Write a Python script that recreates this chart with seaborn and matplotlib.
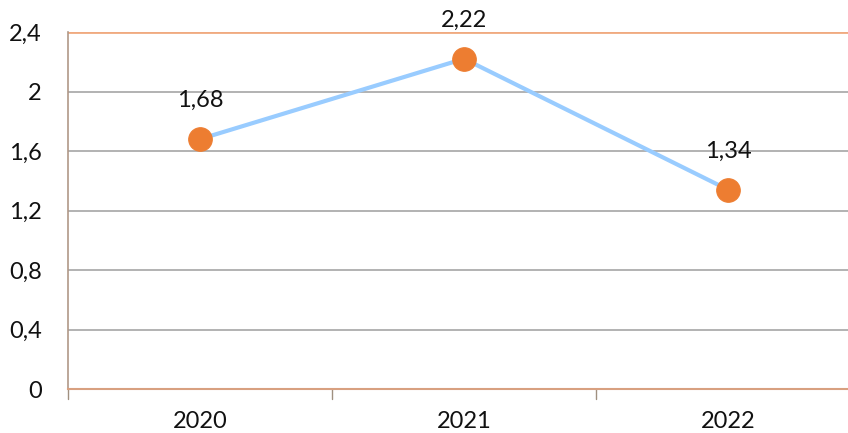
import seaborn as sns
import matplotlib.pyplot as plt
import pandas as pd

# data
tahun = ["2020", "2021", "2022"]
nilai = [1.68, 2.22, 1.34]
label_nilai = ["1,68", "2,22", "1,34"]
y_ticks = [0, 0.4, 0.8, 1.2, 1.6, 2.0, 2.4]
y_labels = ["0", "0,4", "0,8", "1,2", "1,6", "2", "2,4"]

sns.set_style("white")
plt.rcParams['font.family'] = ['Lato', 'DejaVu Sans']

df = pd.DataFrame({"tahun": tahun, "nilai": nilai})

fig = plt.figure(figsize=(8.48, 4.33), dpi=100)
# plot area runs a bit past the right edge, like the original
ax = fig.add_axes([68 / 848, (433 - 389) / 433, (860 - 68) / 848, (389 - 32) / 433])

sns.lineplot(data=df, x="tahun", y="nilai", ax=ax, color="#99CCFF", linewidth=3,
             marker="o", markersize=17, markerfacecolor="#ED7D31",
             markeredgecolor="#ED7D31", zorder=3)

ax.set_xlim(-0.5, 2.5)
ax.set_ylim(0, 2.4)
ax.set_yticks(y_ticks)
ax.set_yticklabels(y_labels, fontsize=17, color="#111111")
ax.tick_params(axis="x", labelsize=17, labelcolor="#111111", length=0, pad=16)
ax.tick_params(axis="y", length=0, pad=19)

# grid lines
for v in y_ticks[1:-1]:
    ax.axhline(v, color="#A6A6A6", linewidth=1.2, zorder=1)
ax.axhline(2.4, color="#F0AA80", linewidth=2, zorder=1)

# category boundary ticks under the axis
for b in [-0.5, 0.5, 1.5]:
    ax.plot([b, b], [0, -0.07], color="#A09080", linewidth=1, clip_on=False)

for s in ["top", "right"]:
    ax.spines[s].set_visible(False)
ax.spines["left"].set_color("#B09888")
ax.spines["left"].set_linewidth(1.2)
ax.spines["bottom"].set_color("#D8A080")
ax.spines["bottom"].set_linewidth(1.5)

for i, (v, lab) in enumerate(zip(nilai, label_nilai)):
    ax.text(i, v + 0.26, lab, ha="center", va="center", fontsize=17, color="#111111")

ax.set_xlabel("")
ax.set_ylabel("")

fig.savefig("out.png", dpi=100)
